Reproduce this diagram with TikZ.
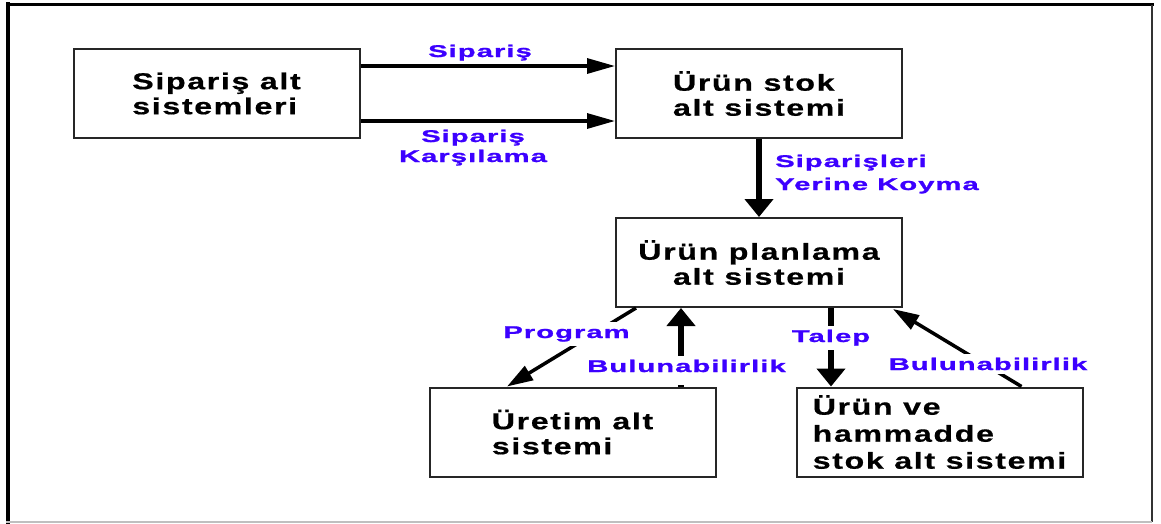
\documentclass[tikz,border=0pt]{standalone}
\usepackage{fontspec}
\usetikzlibrary{arrows.meta}
\newfontfamily\boxfont[FakeStretch=1.4,LetterSpace=7,FakeBold=0.6]{Liberation Sans Bold}
\newfontfamily\labfont[FakeStretch=1.72,LetterSpace=6,FakeBold=1.2]{Liberation Sans Bold}
\definecolor{lblue}{RGB}{60,0,255}
\begin{document}
\begin{tikzpicture}[x=1pt,y=-1pt,
  box/.style={draw=black!85, line width=2pt, minimum width=286pt, minimum height=89pt,
    inner sep=0pt, align=left, font=\boxfont\fontsize{23}{25}\selectfont},
  lab/.style={font=\labfont\fontsize{17}{20}\selectfont, text=lblue, inner sep=0pt},
  labw/.style={lab, fill=white, inner sep=4pt},
  harr/.style={line width=3.2pt, -{Triangle[length=28pt,width=15pt]}},
  varr/.style={line width=5.5pt, -{Triangle[length=18pt,width=28pt]}},
  darr/.style={line width=3.5pt, -{Triangle[length=26pt,width=16pt]}},
  frame/.style={line cap=rect}]
\useasboundingbox (0,0) rectangle (1161,523);
% outer frame
\draw[frame, line width=4pt] (8,4) -- (8,523);
\draw[frame, line width=3pt] (7,4.5) -- (1152,4.5);
\draw[line width=1.5pt, black!80] (1152,4.5) -- (1152,522);
\draw[line width=1.5pt, black!25] (6,522.2) -- (1152,522.2);

% boxes
\node[box] (A) at (216.5,93.5) {Sipariş alt\\sistemleri};
\node[box] (B) at (759,93.5) {Ürün stok\\alt sistemi};
\node[box, align=center] (C) at (759,262.5) {Ürün planlama\\alt sistemi};
\node[box] (U) at (572.5,432) {Üretim alt\\sistemi};
\node[box, font=\boxfont\fontsize{23}{27}\selectfont] (R) at (939.5,432) {Ürün ve\\hammadde\\stok alt sistemi};

% helper coordinates
\coordinate (y1) at (0,66);
\coordinate (y2) at (0,121);
\coordinate (p1) at ([xshift=21pt]C.south west);
\coordinate (p2) at ([xshift=78.5pt]U.north west);
\coordinate (b1) at ([xshift=252.5pt]U.north west);
\coordinate (t1) at ([xshift=216pt]C.south west);
\coordinate (b2) at ([xshift=226pt]R.north west);
\coordinate (b2e) at ([xshift=-10pt,yshift=-1pt]C.south east);

% connectors
\draw[harr] (A.east |- y1) -- (B.west |- y1);
\draw[harr] (A.east |- y2) -- (B.west |- y2);
\draw[varr] (B.south) -- (C.north);
\draw[darr] (p1) -- (p2);
\draw[varr] (b1) -- (b1 |- C.south);
\draw[varr] (t1) -- (t1 |- R.north);
\draw[darr] (b2) -- (b2e);

% labels
\node[lab, anchor=base] (l1) at (480,57) {Sipariş};
\node[lab, anchor=base, align=center] (l2) at (473,162) {Sipariş\\Karşılama};
\node[lab, anchor=base west, align=left, font=\labfont\fontsize{17}{23}\selectfont] (l3) at (775,190) {Siparişleri\\Yerine Koyma};
\node[labw, anchor=base] (l4) at (566.5,338) {Program};
\node[labw, anchor=base, text depth=9pt] (l5) at (686.5,372) {Bulunabilirlik};
\node[labw, anchor=base] (l6) at (831,342) {Talep};
\node[labw, anchor=base] (l7) at (988,370) {Bulunabilirlik};
\end{tikzpicture}
\end{document}
